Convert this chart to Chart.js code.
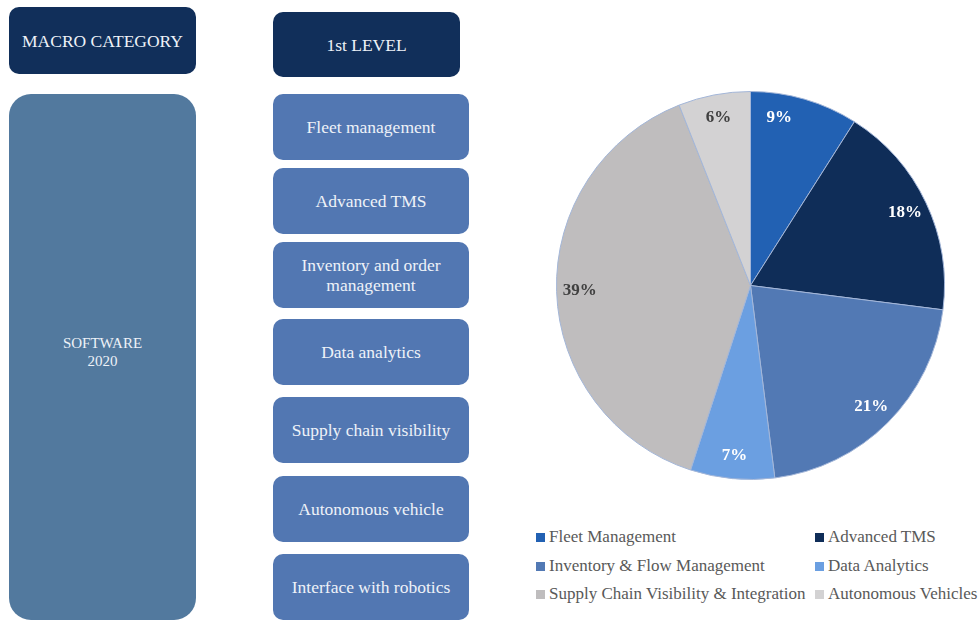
<!DOCTYPE html>
<html>
<head>
<meta charset="utf-8">
<script src="https://cdn.jsdelivr.net/npm/chart.js@4.4.1/dist/chart.umd.min.js"></script>
<style>
  html, body { margin: 0; padding: 0; background: #ffffff; }
  body { width: 980px; height: 621px; position: relative; overflow: hidden;
         font-family: "Liberation Serif", "DejaVu Serif", serif; }
  .box { position: absolute; display: flex; align-items: center; justify-content: center;
         text-align: center; color: #eef2f8; font-size: 17.5px; line-height: 20px; box-sizing: border-box; }
  .head { background: #112f5a; border-radius: 10px; }
  .macro { background: #52799e; border-radius: 22px; font-size: 15px; line-height: 18px; padding-bottom: 10px; }
  .lvl { background: #5277b2; border-radius: 10px; }
  #chartWrap { position: absolute; left: 552px; top: 87px; width: 397px; height: 397px; }
  #legend { position: absolute; left: 536px; top: 527px; width: 444px; }
  .li { position: absolute; white-space: nowrap; font-size: 17px; color: #595959; height: 20px; line-height: 20px; }
  .li span.sw { display: inline-block; width: 9px; height: 9px; margin-right: 4px; vertical-align: 0px; }
</style>
</head>
<body>
<div id="boxes"></div>
<div id="chartWrap"><canvas id="c"></canvas></div>
<div id="legend"></div>
<script>
// ----- data -----
const headers = ["MACRO CATEGORY", "1st LEVEL"];
const macroLines = ["SOFTWARE", "2020"];
const levelItems = ["Fleet management", "Advanced TMS", "Inventory and order<br>management",
                    "Data analytics", "Supply chain visibility", "Autonomous vehicle", "Interface with robotics"];
const categories = ["Fleet Management", "Advanced TMS", "Inventory & Flow Management",
                    "Data Analytics", "Supply Chain Visibility & Integration", "Autonomous Vehicles"];
const shares = [9, 18, 21, 7, 39, 6];
const sliceColors = ["#2261b3", "#0f2d58", "#5279b4", "#6b9fe1", "#bfbdbe", "#d3d2d3"];
const labelColors = ["#ffffff", "#ffffff", "#ffffff", "#ffffff", "#404040", "#404040"];

// ----- left boxes -----
const boxesEl = document.getElementById('boxes');
function addBox(cls, html, x, y, w, h) {
  const d = document.createElement('div');
  d.className = 'box ' + cls;
  d.style.left = x + 'px'; d.style.top = y + 'px';
  d.style.width = w + 'px'; d.style.height = h + 'px';
  d.innerHTML = html;
  boxesEl.appendChild(d);
}
addBox('head', headers[0], 9, 7, 187, 67);
addBox('head', headers[1], 273, 12, 187, 65);
addBox('macro', macroLines.join('<br>'), 9, 94, 187, 526);
const levelTops = [94, 168, 242, 319, 397, 476, 554];
levelItems.forEach((t, i) => addBox('lvl', t, 273, levelTops[i], 196, 66));

// ----- legend -----
const legendEl = document.getElementById('legend');
categories.forEach((c, i) => {
  const d = document.createElement('div');
  d.className = 'li';
  d.style.left = (i % 2 === 0 ? 0 : 279) + 'px';
  d.style.top = (Math.floor(i / 2) * 28.5) + 'px';
  d.innerHTML = '<span class="sw" style="background:' + sliceColors[i] + '"></span>' + c;
  legendEl.appendChild(d);
});

// ----- pie -----
const labelPlugin = {
  id: 'sliceLabels',
  afterDatasetsDraw(chart) {
    const ctx = chart.ctx;
    const meta = chart.getDatasetMeta(0);
    ctx.save();
    ctx.font = 'bold 17px "Liberation Serif", serif';
    ctx.textAlign = 'center';
    ctx.textBaseline = 'middle';
    meta.data.forEach((arc, i) => {
      const p = arc.getProps(['x', 'y', 'startAngle', 'endAngle', 'outerRadius'], true);
      // small first slice label sits nearer the slice's leading edge
      const t = i === 0 ? 0.3 : 0.5;
      const mid = p.startAngle + (p.endAngle - p.startAngle) * t;
      const r = p.outerRadius * 0.88;
      ctx.fillStyle = labelColors[i];
      ctx.fillText(shares[i] + '%', p.x + Math.cos(mid) * r, p.y + Math.sin(mid) * r);
    });
    ctx.restore();
  }
};

new Chart(document.getElementById('c'), {
  type: 'pie',
  data: {
    labels: categories,
    datasets: [{
      data: shares,
      backgroundColor: sliceColors,
      borderColor: '#a3b6d8',
      borderWidth: 1
    }]
  },
  options: {
    responsive: true,
    maintainAspectRatio: false,
    animation: false,
    layout: { padding: 4 },
    plugins: { legend: { display: false }, tooltip: { enabled: false } }
  },
  plugins: [labelPlugin]
});
</script>
</body>
</html>
